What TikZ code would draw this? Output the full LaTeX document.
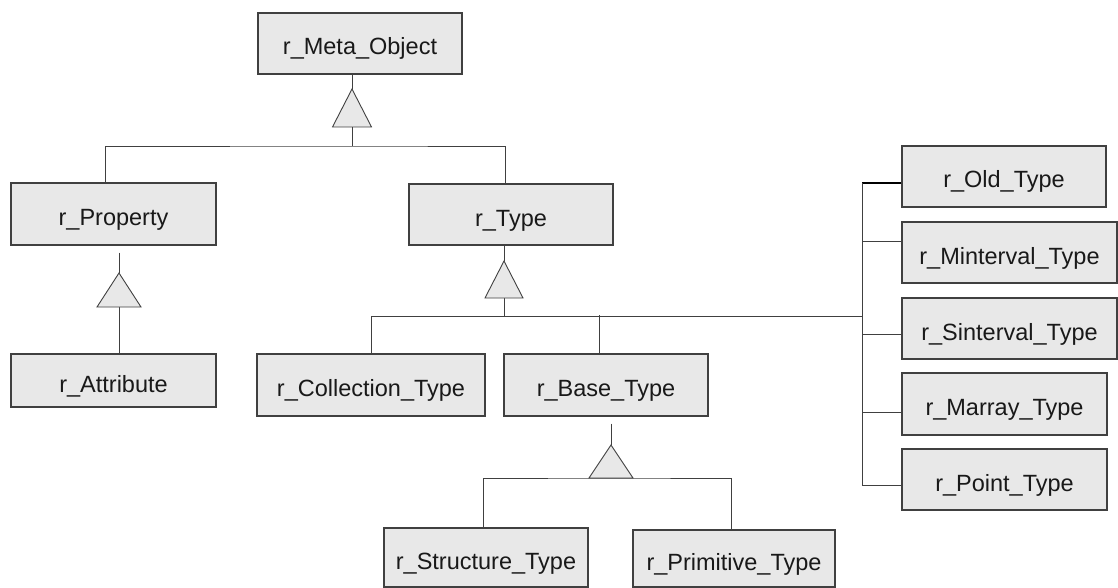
\documentclass[tikz,border=0pt]{standalone}
\usepackage{fontspec}
\setmainfont{Liberation Sans}
\definecolor{boxfill}{HTML}{E8E8E8}
\definecolor{edge}{HTML}{404040}
\begin{document}
\begin{tikzpicture}[x=1pt,y=-1pt,
  cls/.style={draw=edge, fill=boxfill, line width=1.1pt, inner sep=0pt,
    text height=23pt, text depth=0pt,
    font=\fontsize{23.5}{28}\selectfont, text=black!90},
  link/.style={draw=edge, line width=0.9pt},
  oldlink/.style={draw=black, line width=1.8pt},
  tri/.style={draw=edge, fill=boxfill, line width=0.9pt, line join=miter}]
\useasboundingbox (0,0) rectangle (1118,588);

% class boxes
\node[cls, minimum width=204pt, minimum height=61pt] (meta)   at (360,43.5)   {r\_Meta\_Object};
\node[cls, minimum width=205pt, minimum height=62pt] (prop)   at (113.5,214)  {r\_Property};
\node[cls, minimum width=205pt, minimum height=53pt] (attr)   at (113.5,380.5){r\_Attribute};
\node[cls, minimum width=204pt, minimum height=61pt] (type)   at (511,214.5)  {r\_Type};
\node[cls, minimum width=228pt, minimum height=62pt] (coll)   at (371,385)    {r\_Collection\_Type};
\node[cls, minimum width=204pt, minimum height=62pt] (base)   at (606,385)    {r\_Base\_Type};
\node[cls, minimum width=204pt, minimum height=59pt] (struct) at (486,557.5)  {r\_Structure\_Type};
\node[cls, minimum width=202pt, minimum height=57pt] (prim)   at (734,558.5)  {r\_Primitive\_Type};
\node[cls, minimum width=204pt, minimum height=61pt] (old)    at (1004,176.5) {r\_Old\_Type};
\node[cls, minimum width=215pt, minimum height=61pt] (mint)   at (1009.5,252.5){r\_Minterval\_Type};
\node[cls, minimum width=215pt, minimum height=61pt] (sint)   at (1009.5,328.5){r\_Sinterval\_Type};
\node[cls, minimum width=205pt, minimum height=62pt] (marr)   at (1004.5,404) {r\_Marray\_Type};
\node[cls, minimum width=205pt, minimum height=61pt] (point)  at (1004.5,479.5){r\_Point\_Type};

% r_Meta_Object generalization
\coordinate (a1) at (352,89);
\coordinate (b1) at (352,146);
\draw[link] (a1 |- meta.south) -- (a1);
\draw[link] (a1) ++(0,38) -- (b1);
\draw[tri] (a1) -- ++(-19.5,38) -- ++(39,0) -- cycle;
\draw[link] ([xshift=-8.5pt]prop.north) |- (b1) -| ([xshift=-6pt]type.north);

% r_Property generalization
\coordinate (a2) at (119,273);
\draw[link] ([xshift=5.5pt,yshift=-7pt]prop.south) -- (a2);
\draw[link] (a2) ++(0,34) -- (attr.north -| a2);
\draw[tri] (a2) -- ++(-22,34) -- ++(44,0) -- cycle;

% r_Type generalization
\coordinate (a3) at (504,261);
\coordinate (b3) at (504,316);
\coordinate (tr) at (863,316);
\draw[link] (a3 |- type.south) -- (a3);
\draw[link] (a3) ++(0,37) -- (b3);
\draw[tri] (a3) -- ++(-19,37) -- ++(38,0) -- cycle;
\draw[link] (coll.north) |- (tr);
\draw[link] ([xshift=-7pt]base.north) -- ++(0,-38);

% right column
\draw[oldlink] ([yshift=-6.5pt]old.west) -- ++(-39,0) coordinate (tt);
\draw[link] (tt) |- ([yshift=-5.5pt]point.west);
\draw[link] ([yshift=11.5pt]mint.west) -- ++(-39,0);
\draw[link] ([yshift=-5.5pt]sint.west) -- ++(-39,0);
\draw[link] ([yshift=-8pt]marr.west) -- ++(-39,0);

% r_Base_Type generalization
\coordinate (a4) at (611,445);
\coordinate (b4) at (611,478);
\draw[link] ([xshift=5pt,yshift=-7pt]base.south) -- (a4);
\draw[tri] (a4) -- ++(-22,33) -- ++(44,0) -- cycle;
\draw[link] ([xshift=-3pt]struct.north) |- (b4) -| ([xshift=-3pt]prim.north);
\end{tikzpicture}
\end{document}
